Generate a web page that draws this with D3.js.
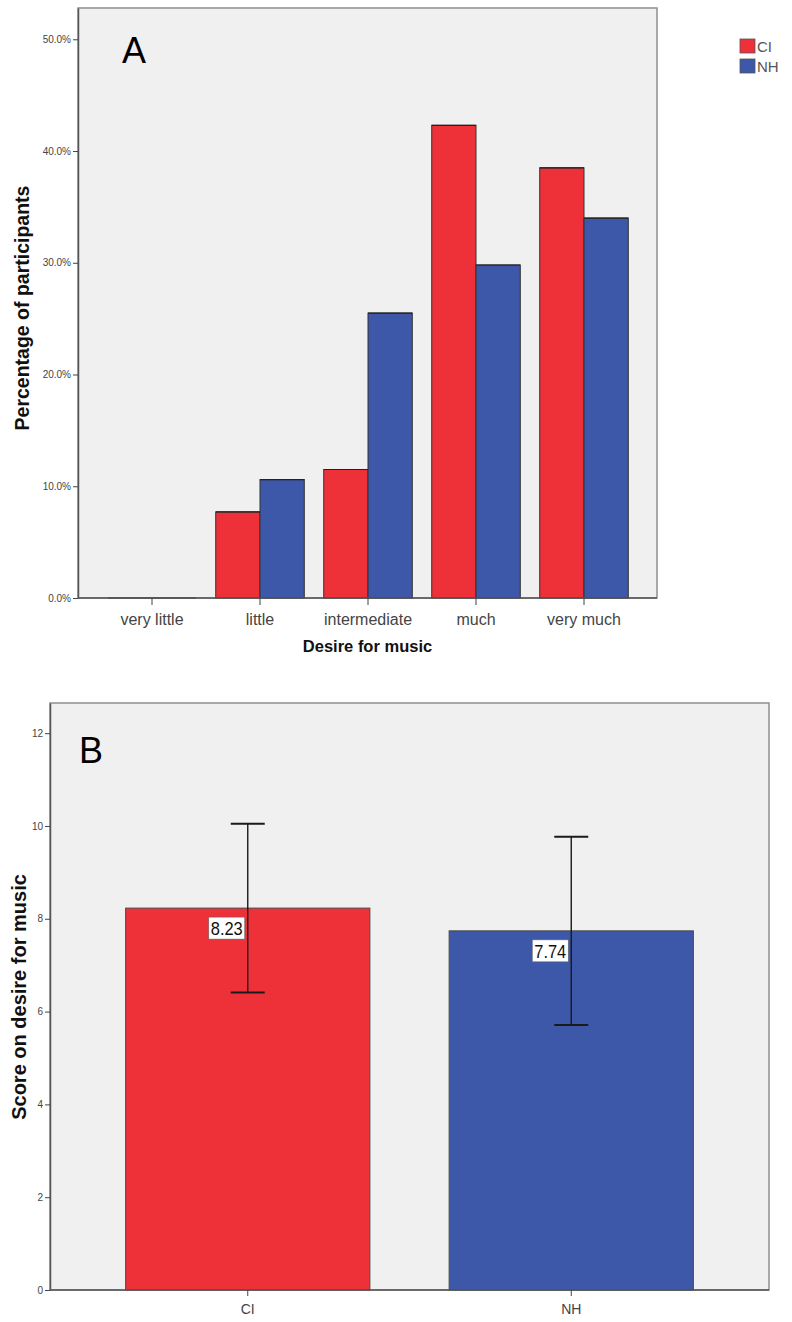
<!DOCTYPE html>
<html>
<head>
<meta charset="utf-8">
<script src="https://cdn.jsdelivr.net/npm/d3@7/dist/d3.min.js"></script>
<style>
  body { margin: 0; background: #fff; }
  svg { display: block; font-family: "Liberation Sans", Arial, sans-serif; }
  .axis text { fill: #444; }
  .axis line { stroke: #444; }
  .axis .domain { stroke: #555; }
  .title { font-weight: bold; fill: #111; }
</style>
</head>
<body>
<svg id="fig" width="792" height="1322"></svg>
<script>
// panel A data: percentage of participants per answer
var categories = ["very little", "little", "intermediate", "much", "very much"];
var groups = ["CI", "NH"];
var ciPct = [0, 7.7, 11.5, 42.3, 38.5];
var nhPct = [0, 10.6, 25.5, 29.8, 34.0];
var yTicksA = [0, 10, 20, 30, 40, 50];

// panel B data: mean score with 95% CI
var meanGroups = ["CI", "NH"];
var meanScores = [8.23, 7.74];
var ciLower = [6.41, 5.71];
var ciUpper = [10.05, 9.77];
var yTicksB = [0, 2, 4, 6, 8, 10, 12];

var colors = {CI: "#ee3039", NH: "#3d57a9"};

var svg = d3.select("#fig");

/* ---------- panel A ---------- */
var frameA = {left: 78, right: 657, top: 8, bottom: 598};

var yA = d3.scaleLinear().domain([0, 52.8]).range([frameA.bottom, frameA.top]);
var xA = d3.scaleBand().domain(categories).range([98, 638])
    .paddingInner(0.18).paddingOuter(0.09);
var xSub = d3.scaleBand().domain(groups).range([0, xA.bandwidth()]);

var gA = svg.append("g");

gA.append("rect")
    .attr("x", frameA.left).attr("y", frameA.top)
    .attr("width", frameA.right - frameA.left)
    .attr("height", frameA.bottom - frameA.top)
    .attr("fill", "#f0f0f0")
    .attr("stroke", "#8f8f8f")
    .attr("stroke-width", 1.5);

var rowsA = categories.map(function (c, i) {
    return {cat: c, values: [{g: "CI", v: ciPct[i]}, {g: "NH", v: nhPct[i]}]};
});

var cat = gA.selectAll(".cat")
    .data(rowsA)
    .enter().append("g")
    .attr("class", "cat")
    .attr("transform", function (d) { return "translate(" + xA(d.cat) + ",0)"; });

cat.selectAll("rect")
    .data(function (d) { return d.values; })
    .enter().append("rect")
    .attr("x", function (d) { return xSub(d.g); })
    .attr("y", function (d) { return yA(d.v); })
    .attr("width", xSub.bandwidth())
    .attr("height", function (d) { return yA(0) - yA(d.v); })
    .attr("fill", function (d) { return colors[d.g]; })
    .attr("stroke", "#333")
    .attr("stroke-width", 1);

// top edge of each bar (shows the empty "very little" bars as a line)
cat.selectAll("line.top")
    .data(function (d) { return d.values; })
    .enter().append("line")
    .attr("class", "top")
    .attr("x1", function (d) { return xSub(d.g); })
    .attr("x2", function (d) { return xSub(d.g) + xSub.bandwidth(); })
    .attr("y1", function (d) { return yA(d.v); })
    .attr("y2", function (d) { return yA(d.v); })
    .attr("stroke", "#222")
    .attr("stroke-width", 1.2);

gA.append("g")
    .attr("class", "axis")
    .attr("transform", "translate(" + frameA.left + ",0)")
    .call(d3.axisLeft(yA).tickValues(yTicksA).tickSize(5).tickSizeOuter(0).tickPadding(2)
        .tickFormat(function (d) { return d.toFixed(1) + "%"; }))
    .call(function (g) {
        g.selectAll("text").style("font-size", "10px");
        g.select(".domain").attr("stroke-width", 1.5);
    });

gA.append("g")
    .attr("class", "axis")
    .attr("transform", "translate(0," + frameA.bottom + ")")
    .call(d3.axisBottom(xA).tickSize(7).tickSizeOuter(0).tickPadding(9))
    .call(function (g) {
        g.selectAll("text").style("font-size", "16px");
        g.select(".domain").attr("d", "M" + frameA.left + ",0H" + frameA.right).attr("stroke-width", 1.5);
    });

gA.append("text")
    .attr("class", "title")
    .attr("transform", "translate(29," + ((frameA.top + frameA.bottom) / 2 + 5) + ") rotate(-90)")
    .attr("text-anchor", "middle")
    .style("font-size", "19.5px")
    .text("Percentage of participants");

gA.append("text")
    .attr("class", "title")
    .attr("x", (frameA.left + frameA.right) / 2)
    .attr("y", 652)
    .attr("text-anchor", "middle")
    .style("font-size", "16.5px")
    .text("Desire for music");

gA.append("text")
    .attr("x", 122).attr("y", 63)
    .style("font-size", "36px")
    .text("A");

// legend
var legend = gA.selectAll(".legend")
    .data(groups)
    .enter().append("g")
    .attr("class", "legend")
    .attr("transform", function (d, i) { return "translate(740," + (39 + i * 20) + ")"; });

legend.append("rect")
    .attr("width", 15).attr("height", 14)
    .attr("fill", function (d) { return colors[d]; })
    .attr("stroke", "#555")
    .attr("stroke-width", 0.8);

legend.append("text")
    .attr("x", 17).attr("y", 13)
    .style("font-size", "15px")
    .attr("fill", "#555")
    .text(function (d) { return d; });

/* ---------- panel B ---------- */
var frameB = {left: 50, right: 769, top: 703, bottom: 1290};

var yB = d3.scaleLinear().domain([0, 12.65]).range([frameB.bottom, frameB.top]);
var xB = d3.scaleBand().domain(meanGroups).range([86, 733])
    .paddingInner(0.245).paddingOuter(0.1225);

var gB = svg.append("g");

gB.append("rect")
    .attr("x", frameB.left).attr("y", frameB.top)
    .attr("width", frameB.right - frameB.left)
    .attr("height", frameB.bottom - frameB.top)
    .attr("fill", "#f0f0f0")
    .attr("stroke", "#8f8f8f")
    .attr("stroke-width", 1.5);

var rowsB = meanGroups.map(function (g, i) {
    return {g: g, mean: meanScores[i], lo: ciLower[i], hi: ciUpper[i]};
});

gB.selectAll(".bar")
    .data(rowsB)
    .enter().append("rect")
    .attr("class", "bar")
    .attr("x", function (d) { return xB(d.g); })
    .attr("y", function (d) { return yB(d.mean); })
    .attr("width", xB.bandwidth())
    .attr("height", function (d) { return yB(0) - yB(d.mean); })
    .attr("fill", function (d) { return colors[d.g]; })
    .attr("stroke", "#4a4a4a")
    .attr("stroke-width", 1);

gB.append("g")
    .attr("class", "axis")
    .attr("transform", "translate(" + frameB.left + ",0)")
    .call(d3.axisLeft(yB).tickValues(yTicksB).tickSize(5).tickSizeOuter(0).tickPadding(2))
    .call(function (g) {
        g.selectAll("text").style("font-size", "10px");
        g.select(".domain").attr("stroke-width", 1.5);
    });

gB.append("g")
    .attr("class", "axis")
    .attr("transform", "translate(0," + frameB.bottom + ")")
    .call(d3.axisBottom(xB).tickSize(6).tickSizeOuter(0).tickPadding(8))
    .call(function (g) {
        g.selectAll("text").style("font-size", "14px");
        g.select(".domain").attr("d", "M" + frameB.left + ",0H" + frameB.right).attr("stroke-width", 1.5);
    });

// value labels
var lab = gB.selectAll(".val")
    .data(rowsB)
    .enter().append("g")
    .attr("class", "val")
    .attr("transform", function (d) {
        return "translate(" + (xB(d.g) + xB.bandwidth() / 2 - 39) + "," + (yB(d.mean) + 9) + ")";
    });

lab.append("rect")
    .attr("width", 36).attr("height", 22)
    .attr("fill", "#fff")
    .attr("stroke", "#666")
    .attr("stroke-width", 0.6);

lab.append("text")
    .attr("x", 2).attr("y", 18)
    .attr("textLength", 32)
    .attr("lengthAdjust", "spacingAndGlyphs")
    .style("font-size", "19px")
    .attr("fill", "#111")
    .text(function (d) { return d.mean.toFixed(2); });

// error bars
var err = gB.selectAll(".err")
    .data(rowsB)
    .enter().append("g")
    .attr("class", "err")
    .attr("stroke", "#1a1a1a");

err.append("line")
    .attr("x1", function (d) { return xB(d.g) + xB.bandwidth() / 2; })
    .attr("x2", function (d) { return xB(d.g) + xB.bandwidth() / 2; })
    .attr("y1", function (d) { return yB(d.hi); })
    .attr("y2", function (d) { return yB(d.lo); })
    .attr("stroke-width", 1.4);

err.selectAll("line.cap")
    .data(function (d) { return [d.hi, d.lo].map(function (v) { return {g: d.g, v: v}; }); })
    .enter().append("line")
    .attr("class", "cap")
    .attr("x1", function (d) { return xB(d.g) + xB.bandwidth() / 2 - 17; })
    .attr("x2", function (d) { return xB(d.g) + xB.bandwidth() / 2 + 17; })
    .attr("y1", function (d) { return yB(d.v); })
    .attr("y2", function (d) { return yB(d.v); })
    .attr("stroke-width", 2);

gB.append("text")
    .attr("class", "title")
    .attr("transform", "translate(26," + 997 + ") rotate(-90)")
    .attr("text-anchor", "middle")
    .style("font-size", "20px")
    .text("Score on desire for music");

gB.append("text")
    .attr("x", 79).attr("y", 763)
    .style("font-size", "36px")
    .text("B");
</script>
</body>
</html>
